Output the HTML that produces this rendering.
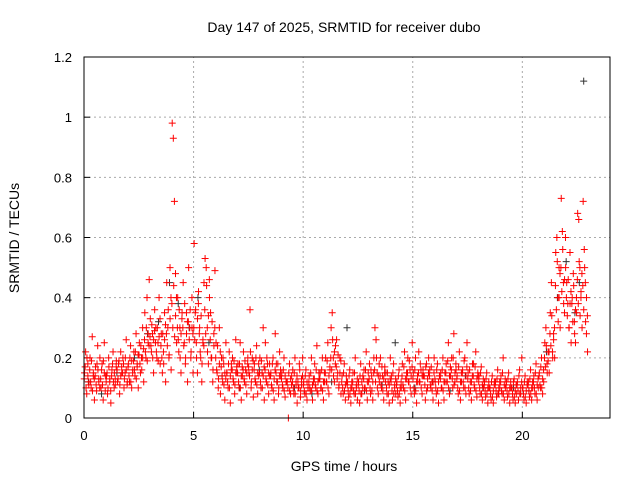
<!DOCTYPE html>
<html><head><meta charset="utf-8"><style>
body{margin:0;background:#fff}
svg{display:block;font-family:"Liberation Sans",sans-serif}
</style></head><body>
<svg id="chart" width="640" height="480">
<rect width="640" height="480" fill="#fff"/>
<text x="344" y="32" text-anchor="middle" font-size="14">Day 147 of 2025, SRMTID for receiver dubo</text>
<text x="344" y="471" text-anchor="middle" font-size="14">GPS time / hours</text>
<text transform="translate(19,238) rotate(-90)" text-anchor="middle" font-size="14">SRMTID / TECUs</text>
<g id="grid"></g><g id="axes"></g><g id="marks"></g>
<rect x="84" y="57" width="526" height="361" fill="none" stroke="#000"/>
</svg>
<script>
const xTicks=[0,5,10,15,20];
const yTicks=[0,0.2,0.4,0.6,0.8,1,1.2];
const yTickLabels=["0","0.2","0.4","0.6","0.8","1","1.2"];
const binWidth=0.25;
const redBins=[
[.15,.22,.08,.18,.12],[.2,.1,.27,.14,.06],[.17,.09,.24,.13,.2],[.1,.18,.06,.25,.14],
[.14,.08,.2,.12,.05],[.16,.22,.1,.13,.19],[.12,.18,.08,.22,.15],[.2,.1,.15,.26,.12],
[.18,.12,.24,.1,.16],[.22,.14,.28,.17,.1],[.25,.15,.2,.3,.12],[.35,.2,.4,.25,.46],
[.33,.22,.28,.15,.36],[.3,.2,.25,.4,.18],[.28,.15,.22,.35,.12],[.45,.3,.2,.5,.16],
[.98,.93,.72,.48,.25],[.4,.22,.3,.15,.35],[.45,.25,.18,.35,.12],[.5,.3,.2,.4,.15],
[.58,.35,.25,.15,.42],[.3,.2,.12,.25,.45],[.53,.5,.3,.18,.4],[.35,.2,.12,.28,.49],
[.25,.15,.1,.3,.08],[.2,.12,.18,.06,.25],[.15,.1,.22,.05,.18],[.2,.12,.08,.26,.15],
[.18,.1,.25,.06,.14],[.22,.12,.16,.08,.2],[.15,.36,.1,.2,.07],[.18,.12,.24,.08,.14],
[.2,.1,.15,.3,.06],[.25,.12,.18,.08,.14],[.15,.1,.2,.06,.28],[.18,.12,.08,.22,.14],
[.15,.1,.2,.07,.12],[.12,.0,.18,.08,.14],[.16,.08,.2,.12,.05],[.1,.18,.07,.13,.2],
[.12,.08,.16,.06,.1],[.14,.09,.2,.06,.12],[.18,.1,.24,.08,.13],[.15,.1,.2,.06,.12],
[.2,.12,.25,.08,.16],[.3,.35,.2,.12,.24],[.26,.15,.1,.2,.08],[.14,.08,.18,.06,.12],
[.12,.07,.16,.05,.1],[.15,.08,.2,.1,.06],[.12,.05,.18,.08,.14],[.16,.1,.22,.06,.12],
[.18,.08,.14,.06,.2],[.3,.26,.15,.08,.12],[.2,.1,.14,.06,.17],[.15,.08,.12,.05,.2],
[.14,.06,.18,.1,.08],[.12,.07,.16,.05,.1],[.18,.1,.22,.06,.13],[.2,.12,.16,.08,.25],
[.15,.08,.2,.05,.12],[.22,.12,.16,.08,.14],[.14,.06,.18,.1,.2],[.16,.1,.12,.06,.2],
[.12,.08,.18,.05,.14],[.15,.1,.2,.06,.12],[.18,.12,.25,.08,.14],[.2,.1,.28,.12,.16],
[.14,.08,.22,.06,.12],[.16,.1,.2,.08,.25],[.15,.08,.12,.06,.18],[.18,.1,.22,.07,.14],
[.14,.08,.17,.06,.1],[.12,.07,.15,.05,.1],[.1,.06,.14,.05,.12],[.12,.07,.16,.08,.1],
[.14,.08,.2,.06,.1],[.12,.07,.15,.05,.1],[.1,.06,.13,.05,.08],[.12,.06,.16,.08,.2],
[.1,.06,.14,.05,.12],[.12,.07,.16,.06,.1],[.14,.08,.18,.06,.1],[.15,.1,.2,.08,.12],
[.25,.3,.18,.22,.15],[.35,.45,.22,.28,.2],[.55,.6,.4,.5,.3],[.73,.62,.45,.35,.5],
[.45,.38,.3,.55,.25],[.4,.48,.32,.25,.35],[.68,.66,.5,.4,.3],[.72,.56,.45,.28,.22]
];
const redBins2=[
[.13,.17,.1,.2,.14,.11],[.16,.12,.19,.09,.15,.13],[.14,.11,.18,.16,.12,.1],[.13,.16,.11,.19,.15,.09],
[.12,.15,.1,.17,.13,.09],[.14,.18,.12,.15,.11,.17],[.16,.13,.19,.11,.14,.17],[.15,.18,.13,.2,.16,.11],
[.17,.14,.2,.12,.19,.15],[.19,.16,.22,.13,.18,.21],[.21,.18,.24,.16,.2,.23],[.26,.22,.3,.19,.28,.24],
[.27,.24,.31,.2,.26,.29],[.25,.22,.3,.19,.27,.33],[.24,.2,.28,.18,.26,.31],[.28,.24,.36,.21,.33,.4],
[.38,.3,.44,.27,.34,.4],[.3,.26,.36,.2,.28,.33],[.3,.24,.38,.2,.28,.32],[.32,.26,.36,.22,.3,.28],
[.3,.26,.36,.2,.33,.38],[.28,.22,.34,.18,.26,.24],[.36,.28,.44,.22,.34,.46],[.26,.2,.32,.16,.24,.3],
[.2,.16,.24,.13,.18,.22],[.17,.14,.2,.11,.15,.13],[.15,.12,.18,.1,.14,.16],[.16,.13,.19,.11,.15,.17],
[.15,.12,.18,.1,.14,.17],[.16,.13,.19,.11,.15,.18],[.17,.14,.22,.12,.16,.19],[.16,.13,.2,.11,.15,.18],
[.15,.12,.19,.1,.14,.17],[.16,.13,.2,.11,.15,.18],[.14,.11,.18,.09,.13,.16],[.15,.12,.18,.1,.14,.16],
[.13,.11,.16,.09,.14,.12],[.12,.1,.15,.09,.13,.11],[.12,.1,.15,.08,.11,.14],[.12,.1,.16,.09,.11,.14],
[.11,.09,.14,.08,.12,.1],[.12,.1,.15,.09,.11,.13],[.13,.11,.16,.09,.12,.15],[.13,.1,.16,.09,.12,.15],
[.15,.12,.19,.1,.14,.17],[.2,.16,.26,.14,.22,.18],[.17,.13,.21,.11,.15,.19],[.12,.1,.15,.09,.11,.14],
[.11,.09,.14,.08,.1,.12],[.12,.09,.15,.08,.11,.13],[.11,.09,.14,.08,.12,.1],[.13,.1,.16,.09,.12,.15],
[.13,.1,.16,.09,.12,.15],[.16,.12,.2,.1,.14,.18],[.14,.11,.17,.09,.13,.15],[.12,.1,.15,.08,.11,.13],
[.12,.09,.15,.08,.11,.13],[.11,.09,.14,.08,.1,.12],[.14,.11,.17,.09,.13,.15],[.15,.12,.19,.1,.14,.17],
[.13,.1,.16,.09,.12,.14],[.15,.12,.18,.1,.14,.16],[.14,.11,.17,.09,.13,.15],[.14,.11,.17,.09,.12,.15],
[.13,.1,.16,.09,.12,.14],[.13,.1,.16,.09,.12,.15],[.15,.12,.19,.1,.14,.17],[.16,.13,.2,.11,.15,.18],
[.13,.1,.17,.09,.12,.15],[.15,.12,.19,.1,.14,.17],[.13,.1,.16,.09,.12,.14],[.14,.11,.17,.09,.13,.15],
[.12,.1,.15,.08,.11,.13],[.11,.09,.13,.08,.1,.12],[.1,.08,.12,.07,.09,.11],[.11,.09,.13,.08,.1,.12],
[.12,.09,.15,.08,.11,.13],[.11,.09,.13,.08,.1,.12],[.1,.08,.12,.07,.09,.11],[.11,.09,.14,.08,.1,.12],
[.1,.08,.12,.07,.09,.11],[.11,.09,.13,.08,.1,.12],[.12,.1,.15,.08,.11,.13],[.14,.11,.17,.1,.13,.16],
[.2,.17,.24,.15,.19,.22],[.28,.24,.34,.2,.26,.3],[.44,.36,.52,.32,.4,.48],[.5,.42,.56,.38,.46,.6],
[.4,.34,.46,.3,.38,.42],[.38,.32,.44,.28,.36,.4],[.46,.38,.52,.34,.42,.48],[.44,.36,.5,.32,.4,.34]
];
const blackTimes=[0.2,0.8,1.5,2.3,2.9,3.4,3.9,4.3,4.8,5.2,5.7,6.3,7.1,8.0,8.8,9.6,10.4,11.3,12.0,12.8,13.6,14.2,15.1,15.9,16.7,17.4,18.2,18.9,19.6,20.3,21.1,21.6,22.0,22.4,22.6,22.8];
const blackValues=[0.12,0.08,0.15,0.2,0.28,0.32,0.45,0.38,0.3,0.4,0.25,0.14,0.1,0.16,0.12,0.1,0.08,0.12,0.3,0.09,0.11,0.25,0.1,0.12,0.09,0.14,0.1,0.08,0.1,0.09,0.22,0.4,0.52,0.35,0.45,1.12];
const X0=84,X1=610,Y0=418,Y1=57;
const xs=v=>X0+(v/24)*(X1-X0);
const ys=v=>Y0-(v/1.2)*(Y0-Y1);
const NS="http://www.w3.org/2000/svg";
const grid=document.getElementById('grid'),axes=document.getElementById('axes'),marks=document.getElementById('marks');
function mk(tag,attrs,parent){const e=document.createElementNS(NS,tag);for(const k in attrs)e.setAttribute(k,attrs[k]);parent.appendChild(e);return e;}
xTicks.forEach(t=>{const x=xs(t);
 if(t>0){const g=mk('line',{x1:x,x2:x,y1:Y0,y2:Y1,stroke:'#aaa','stroke-dasharray':'2,3'},grid);
 
 }
 const l=mk('line',{x1:x,x2:x,y1:Y0,y2:Y0-6,stroke:'#000'},axes);
 
 
 const tx=mk('text',{x:x,y:Y0+22,'text-anchor':'middle','font-size':13},axes);tx.textContent=t;
 
 
});
yTicks.forEach((t,i)=>{const y=ys(t);
 if(t>0&&t<1.2){const g=mk('line',{x1:X0,x2:X1,y1:y,y2:y,stroke:'#aaa','stroke-dasharray':'2,3'},grid);
 
 }
 const l=mk('line',{x1:X0,x2:X0+6,y1:y,y2:y,stroke:'#000'},axes);
 
 
 const tx=mk('text',{x:X0-12,y:y+5,'text-anchor':'end','font-size':13},axes);tx.textContent=yTickLabels[i];
 
 
});
function plus(x,y,c,name){const p=mk('path',{d:`M${x-3.5},${y}h7M${x},${y-3.5}v7`,stroke:c,'stroke-width':1,fill:'none'},marks);
 
 }
blackValues.forEach((v,i)=>plus(xs(blackTimes[i]),ys(v),'#333','black-point'));
redBins.forEach((bin,b)=>bin.forEach((v,j)=>{const t=b*binWidth+(j+0.5)*binWidth/bin.length;plus(xs(t),ys(v),'#ff0000','red-point');}));
redBins2.forEach((bin,b)=>bin.forEach((v,j)=>{const t=b*binWidth+(j+0.25)*binWidth/bin.length;plus(xs(t),ys(v),'#ff0000','red-point');}));
</script>
</body></html>
